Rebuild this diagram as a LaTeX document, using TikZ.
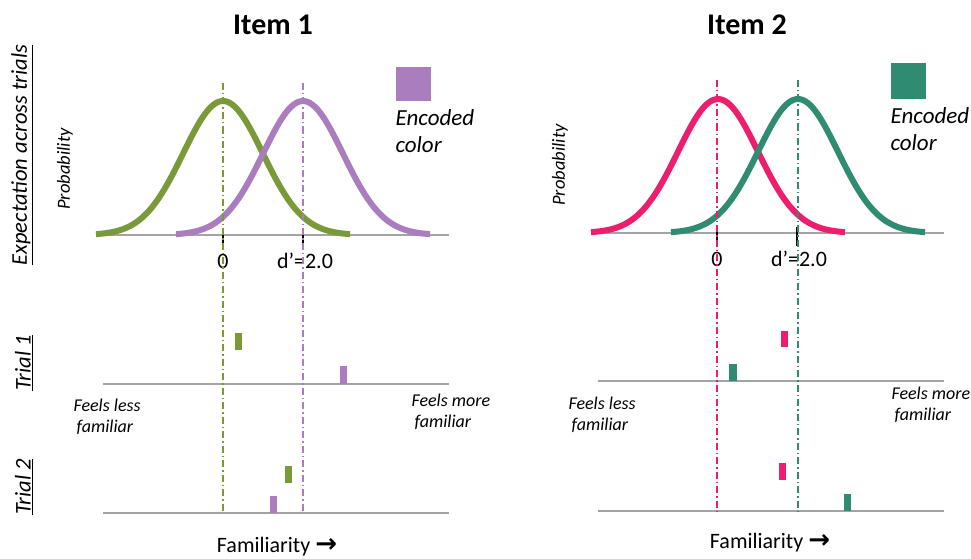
\documentclass[tikz,border=0pt]{standalone}
\usepackage{fontspec}
\setmainfont{Carlito}
\newfontfamily\arrowfont{DejaVu Sans}
\definecolor{cgreen}{HTML}{7A9A3A}
\definecolor{cpurple}{HTML}{A97DBE}
\definecolor{cpink}{HTML}{EC1E6D}
\definecolor{cteal}{HTML}{2F8B71}
\definecolor{caxis}{HTML}{A3A3A3}
\tikzset{
  axisline/.style={draw=caxis, line width=2.2pt},
  curve/.style={line width=6pt, smooth, samples=90, domain=-127:127},
  guide/.style={line width=1.3pt, dash pattern=on 7pt off 3pt on 1.5pt off 3pt},
  tickline/.style={draw=black, line width=2pt},
  title/.style={font=\bfseries\fontsize{30}{32}\selectfont},
  lbl/.style={font=\fontsize{22}{24}\selectfont},
  side/.style={font=\itshape\fontsize{22.5}{24}\selectfont, rotate=90},
  prob/.style={font=\itshape\fontsize{18.5}{20}\selectfont, rotate=90},
  feel/.style={font=\itshape\fontsize{18}{21.5}\selectfont, align=left, anchor=west},
  legend/.style={font=\itshape\fontsize{23}{27}\selectfont, align=left, anchor=west},
}
\newcommand{\famarrow}{{\arrowfont\bfseries\fontsize{26}{26}\selectfont →}}
\begin{document}
\begin{tikzpicture}[x=1pt,y=-1pt]
\useasboundingbox (0,0) rectangle (971,559);
\fill[white] (0,0) rectangle (971,559);

% ---------- Left panel ----------
\node[title] (t1) at (273,25) {Item 1};
\node[side] (exp) at (22,155) {\underline{Expectation across trials}};
\node[prob] (p1) at (65,169) {Probability};
\node[side] (tr1) at (24,363) {\underline{Trial 1}};
\node[side] (tr2) at (24,487) {\underline{Trial 2}};

\draw[axisline] (97,235) -- (449,235);
\draw[cgreen, curve] plot ({223+\x},{235-134*exp(-(\x/40)^2/2)});
\draw[cpurple, curve] plot ({303+\x},{235-134*exp(-(\x/40)^2/2)});
\draw[tickline] (223,229) -- (223,248);
\draw[tickline] (303,229) -- (303,248);
\node[lbl] (z1) at (223,261) {0};
\node[lbl] (d1) at (305,261) {d’=2.0};

\fill[cpurple] (396,67) rectangle (431,101);
\node[legend] (e1) at (392,131) {Encoded\\color};

\draw[axisline] (103,384) -- (449,384);
\draw[axisline] (103,513) -- (449,513);
\fill[cgreen] (235,333) rectangle (242,350);
\fill[cpurple] (340,366) rectangle (347,384);
\fill[cgreen] (285,466) rectangle (292,483);
\fill[cpurple] (270,496) rectangle (277,513);

\node[feel] (fl1) at (70,417) {Feels less\\\hspace*{3pt}familiar};
\node[feel] (fm1) at (408,412) {Feels more\\\hspace*{3pt}familiar};
\node[lbl] (f1) at (277,547) {Familiarity \famarrow};

\draw[cgreen, guide] (223,83) -- (223,513);
\draw[cpurple, guide] (303,83) -- (303,513);

% ---------- Right panel ----------
\node[title] (t2) at (747,25) {Item 2};
\node[prob] (p2) at (560,165) {Probability};

\draw[axisline] (592,233) -- (944,233);
\draw[cpink, curve] plot ({718+\x},{233-134*exp(-(\x/40)^2/2)});
\draw[cteal, curve] plot ({798+\x},{233-134*exp(-(\x/40)^2/2)});
\draw[tickline] (717,227) -- (717,246);
\draw[tickline] (797,227) -- (797,246);
\node[lbl] (z2) at (717,259) {0};
\node[lbl] (d2) at (799,259) {d’=2.0};

\fill[cteal] (891,63) rectangle (926,99);
\node[legend] (e2) at (887,129) {Encoded\\color};

\draw[axisline] (598,381) -- (944,381);
\draw[axisline] (598,511) -- (944,511);
\fill[cpink] (781,331) rectangle (788,347);
\fill[cteal] (729,364) rectangle (737,381);
\fill[cpink] (779,463) rectangle (786,480);
\fill[cteal] (844,494) rectangle (851,511);

\node[feel] (fl2) at (565,415) {Feels less\\\hspace*{3pt}familiar};
\node[feel] (fm2) at (888,405) {Feels more\\\hspace*{3pt}familiar};
\node[lbl] (f2) at (770,543) {Familiarity \famarrow};

\draw[cpink, guide] (717,80) -- (717,511);
\draw[cteal, guide] (798,80) -- (798,511);
\end{tikzpicture}
\end{document}
